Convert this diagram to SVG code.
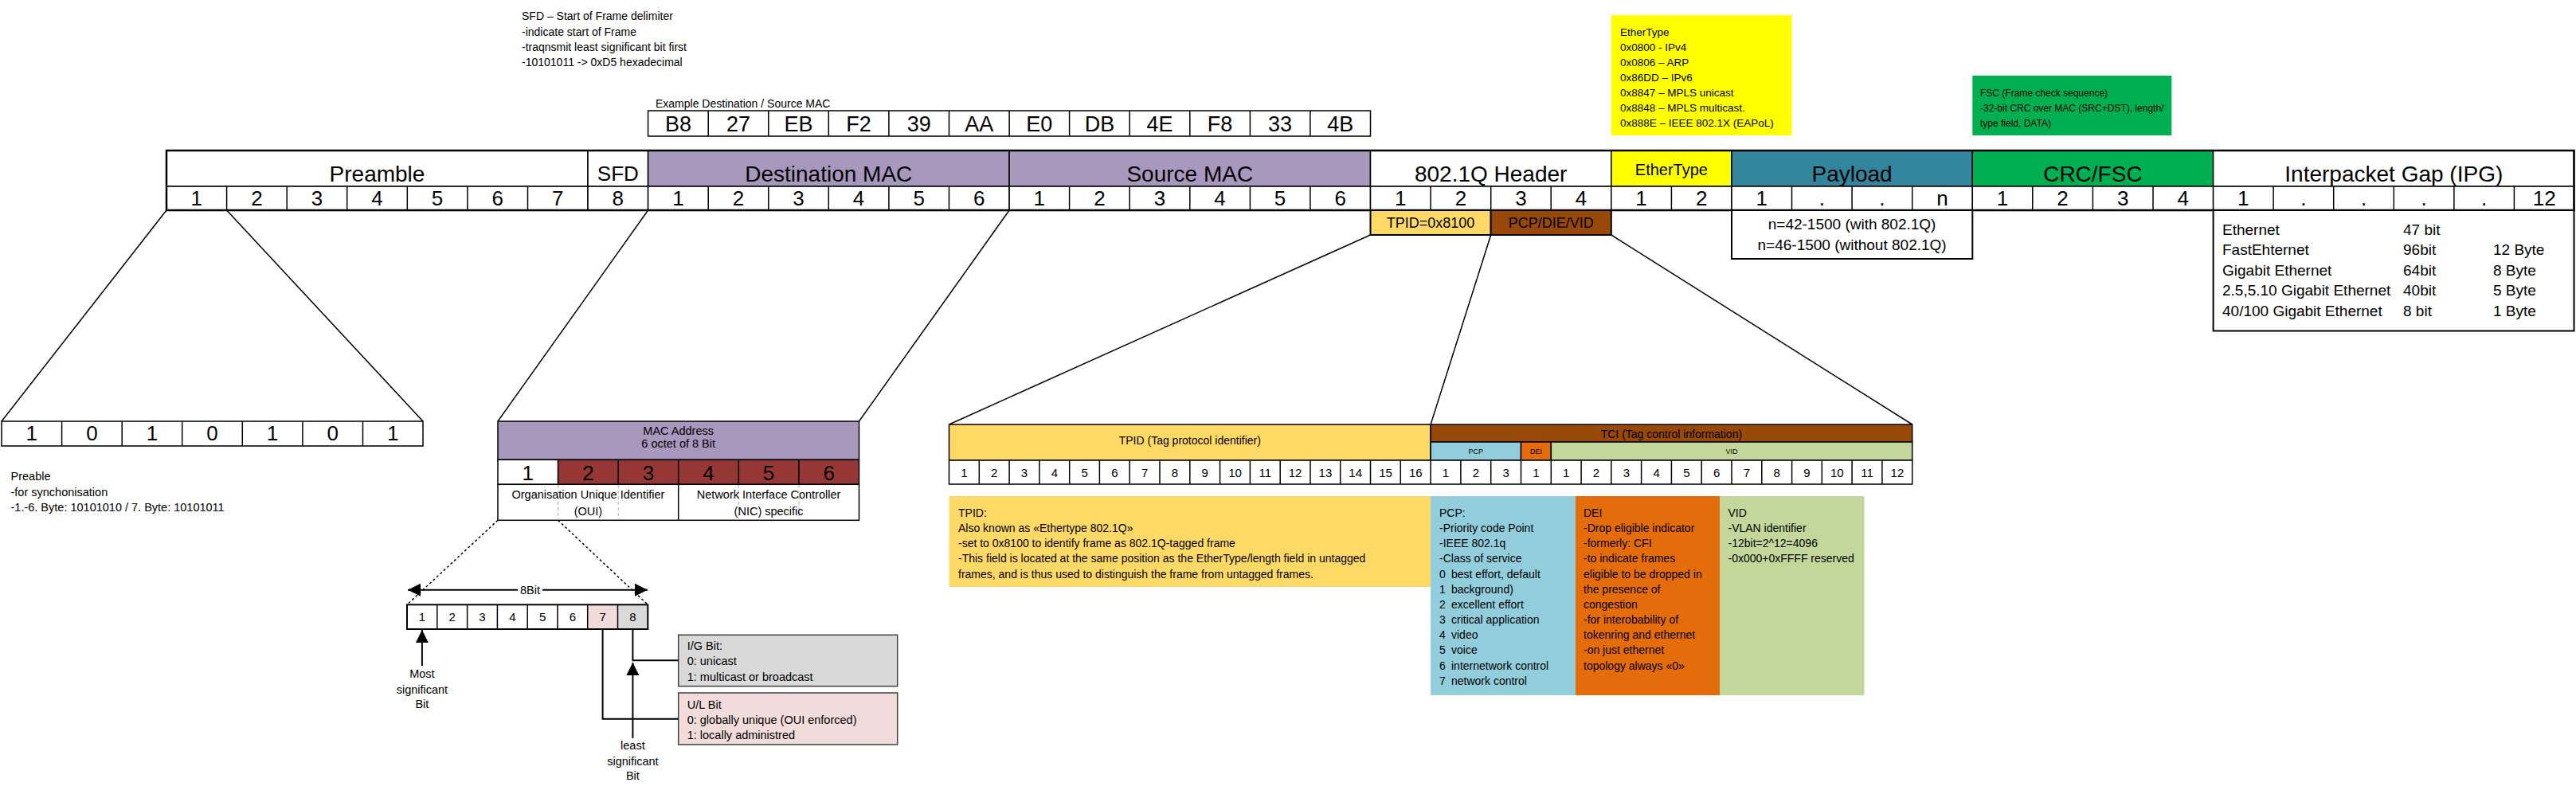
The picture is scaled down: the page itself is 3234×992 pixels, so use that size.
<svg xmlns="http://www.w3.org/2000/svg" width="3234" height="992" viewBox="0 0 3234 992">
<defs>
<style>
text{font-family:"Liberation Sans",Arial,sans-serif;fill:#000}
.cell{stroke:#000;stroke-width:1.5}
.bold{stroke:#000;stroke-width:2.5;fill:none}
.sep{stroke:#000;stroke-width:1.5;fill:none}
.h28{font-size:28px;text-anchor:middle}
.n26{font-size:26px;text-anchor:middle}
.n15{font-size:15px;text-anchor:middle}
.s14{font-size:14px}
.s135{font-size:13.5px}
.s145{font-size:14.5px}
.s19{font-size:19px}
.m{text-anchor:middle}
.ln{stroke:#000;stroke-width:1.5;fill:none}
.ar{stroke:#000;stroke-width:2;fill:none}
.dot{stroke:#000;stroke-width:1.5;stroke-dasharray:3 3;fill:none}
.gdash{stroke:#bbb;stroke-width:1.2;stroke-dasharray:4 3;fill:none}
</style>
<marker id="ah" viewBox="0 0 10 10" refX="10" refY="5" markerWidth="16" markerHeight="16" markerUnits="userSpaceOnUse" orient="auto-start-reverse"><path d="M0 0L10 5L0 10z" fill="#000"/></marker>
</defs>
<rect x="0" y="0" width="3234" height="992" fill="#fff"/>

<!-- SFD note -->
<g id="sfd-note" class="s14">
<text x="655" y="25">SFD – Start of Frame delimiter</text>
<text x="655" y="44.5">-indicate start of Frame</text>
<text x="655" y="64">-traqnsmit least significant bit first</text>
<text x="655" y="83">-10101011 -&gt; 0xD5 hexadecimal</text>
</g>

<!-- Example MAC -->
<g id="mac-example">
<text class="s14" x="823" y="135">Example Destination / Source MAC</text>
<rect class="cell" fill="#fff" x="813.6" y="139" width="906.9" height="32"/>
<path class="sep" d="M889.2 139V171M964.8 139V171M1040.3 139V171M1115.9 139V171M1191.5 139V171M1267.1 139V171M1342.6 139V171M1418.2 139V171M1493.8 139V171M1569.4 139V171M1644.9 139V171"/>
<g class="n26" style="font-size:27px">
<text x="851.4" y="165">B8</text><text x="927" y="165">27</text><text x="1002.5" y="165">EB</text><text x="1078.1" y="165">F2</text><text x="1153.7" y="165">39</text><text x="1229.3" y="165">AA</text><text x="1304.8" y="165">E0</text><text x="1380.4" y="165">DB</text><text x="1456" y="165">4E</text><text x="1531.6" y="165">F8</text><text x="1607.1" y="165">33</text><text x="1682.7" y="165">4B</text>
</g>
</g>

<!-- EtherType note -->
<g id="ethertype-note" class="s135">
<rect x="2022.8" y="19" width="226.7" height="151" fill="#FFFF00"/>
<text x="2034" y="44.5">EtherType</text>
<text x="2034" y="64">0x0800 - IPv4</text>
<text x="2034" y="83">0x0806 – ARP</text>
<text x="2034" y="102">0x86DD – IPv6</text>
<text x="2034" y="121">0x8847 – MPLS unicast</text>
<text x="2034" y="140">0x8848 – MPLS multicast.</text>
<text x="2034" y="159">0x888E – IEEE 802.1X (EAPoL)</text>
</g>

<!-- FSC note -->
<g id="fsc-note" style="font-size:12px">
<rect x="2476.3" y="95" width="250" height="75" fill="#00B050"/>
<text x="2486" y="121">FSC (Frame check sequence)</text>
<text x="2486" y="139.5">-32-bit CRC over MAC (SRC+DST), length/</text>
<text x="2486" y="158.5">type field, DATA)</text>
</g>

<!-- Main frame -->
<g id="preamble">
<rect class="cell" fill="#fff" x="209" y="189" width="529" height="45"/>
<rect class="cell" fill="#fff" x="209" y="234" width="529" height="30"/>
<path class="sep" d="M284.6 234V264M360.2 234V264M435.7 234V264M511.3 234V264M586.9 234V264M662.5 234V264"/>
<text class="h28" x="473.5" y="228">Preamble</text>
<g class="n26"><text x="246.8" y="258">1</text><text x="322.4" y="258">2</text><text x="397.9" y="258">3</text><text x="473.5" y="258">4</text><text x="549.1" y="258">5</text><text x="624.7" y="258">6</text><text x="700.2" y="258">7</text></g>
</g>
<g id="sfd">
<rect class="cell" fill="#fff" x="738" y="189" width="75.6" height="45"/>
<rect class="cell" fill="#fff" x="738" y="234" width="75.6" height="30"/>
<text class="h28" style="font-size:26px" x="775.8" y="227">SFD</text>
<text class="n26" x="775.8" y="258">8</text>
</g>
<g id="dst-mac">
<rect class="cell" fill="#A898BE" x="813.6" y="189" width="453.5" height="45"/>
<rect class="cell" fill="#fff" x="813.6" y="234" width="453.5" height="30"/>
<path class="sep" d="M889.2 234V264M964.8 234V264M1040.3 234V264M1115.9 234V264M1191.5 234V264"/>
<text class="h28" x="1040.3" y="228">Destination MAC</text>
<g class="n26"><text x="851.4" y="258">1</text><text x="927" y="258">2</text><text x="1002.5" y="258">3</text><text x="1078.1" y="258">4</text><text x="1153.7" y="258">5</text><text x="1229.3" y="258">6</text></g>
</g>
<g id="src-mac">
<rect class="cell" fill="#A898BE" x="1267.1" y="189" width="453.4" height="45"/>
<rect class="cell" fill="#fff" x="1267.1" y="234" width="453.4" height="30"/>
<path class="sep" d="M1342.6 234V264M1418.2 234V264M1493.8 234V264M1569.4 234V264M1644.9 234V264"/>
<text class="h28" x="1493.8" y="228">Source MAC</text>
<g class="n26"><text x="1304.8" y="258">1</text><text x="1380.4" y="258">2</text><text x="1456" y="258">3</text><text x="1531.6" y="258">4</text><text x="1607.1" y="258">5</text><text x="1682.7" y="258">6</text></g>
</g>
<g id="dot1q-header">
<rect class="cell" fill="#fff" x="1720.5" y="189" width="302.3" height="45"/>
<rect class="cell" fill="#fff" x="1720.5" y="234" width="302.3" height="30"/>
<path class="sep" d="M1796.1 234V264M1871.7 234V264M1947.2 234V264"/>
<text class="h28" x="1871.7" y="228">802.1Q Header</text>
<g class="n26"><text x="1758.3" y="258">1</text><text x="1833.9" y="258">2</text><text x="1909.4" y="258">3</text><text x="1985" y="258">4</text></g>
</g>
<g id="ethertype">
<rect class="cell" fill="#FFFF00" x="2022.8" y="189" width="151.2" height="45"/>
<rect class="cell" fill="#fff" x="2022.8" y="234" width="151.2" height="30"/>
<path class="sep" d="M2098.4 234V264"/>
<text class="h28" style="font-size:20px" x="2098.4" y="220">EtherType</text>
<g class="n26"><text x="2060.6" y="258">1</text><text x="2136.2" y="258">2</text></g>
</g>
<g id="payload">
<rect class="cell" fill="#31859C" x="2174" y="189" width="302.3" height="45"/>
<rect class="cell" fill="#fff" x="2174" y="234" width="302.3" height="30"/>
<path class="sep" d="M2249.5 234V264M2325.1 234V264M2400.7 234V264"/>
<text class="h28" x="2325.1" y="228">Payload</text>
<g class="n26"><text x="2211.7" y="258">1</text><text x="2287.3" y="258">.</text><text x="2362.9" y="258">.</text><text x="2438.5" y="258">n</text></g>
</g>
<g id="crc-fsc">
<rect class="cell" fill="#00B050" x="2476.3" y="189" width="302.3" height="45"/>
<rect class="cell" fill="#fff" x="2476.3" y="234" width="302.3" height="30"/>
<path class="sep" d="M2551.8 234V264M2627.4 234V264M2703 234V264"/>
<text class="h28" x="2627.4" y="228">CRC/FSC</text>
<g class="n26"><text x="2514" y="258">1</text><text x="2589.6" y="258">2</text><text x="2665.2" y="258">3</text><text x="2740.8" y="258">4</text></g>
</g>
<g id="ipg">
<rect class="cell" fill="#fff" x="2778.6" y="189" width="452.9" height="45"/>
<rect class="cell" fill="#fff" x="2778.6" y="234" width="452.9" height="30"/>
<path class="sep" d="M2854.1 234V264M2929.7 234V264M3005.3 234V264M3080.9 234V264M3156.4 234V264"/>
<text class="h28" x="3005.3" y="228">Interpacket Gap (IPG)</text>
<g class="n26"><text x="2816.3" y="258">1</text><text x="2891.9" y="258">.</text><text x="2967.5" y="258">.</text><text x="3043.1" y="258">.</text><text x="3118.6" y="258">.</text><text x="3194.2" y="258">12</text></g>
</g>
<rect class="bold" x="209" y="189" width="3022.5" height="75"/>

<!-- 802.1Q sub fields -->
<g id="dot1q-sub">
<rect x="1720.5" y="264" width="151.2" height="31" fill="#FFD966" stroke="#000" stroke-width="2"/>
<rect x="1871.7" y="264" width="151.1" height="31" fill="#984807" stroke="#000" stroke-width="2"/>
<text class="m" style="font-size:18px" x="1796.1" y="286">TPID=0x8100</text>
<text class="m" style="font-size:18px" x="1947.2" y="286">PCP/DIE/VID</text>
</g>

<!-- Payload note -->
<g id="payload-note">
<rect x="2174" y="264" width="302.3" height="61" fill="#fff" stroke="#000" stroke-width="2"/>
<text class="s19 m" x="2325.1" y="288">n=42-1500 (with 802.1Q)</text>
<text class="s19 m" x="2325.1" y="313.5">n=46-1500 (without 802.1Q)</text>
</g>

<!-- IPG note -->
<g id="ipg-note" class="s19">
<rect x="2778.6" y="264" width="452.9" height="151.5" fill="#fff" stroke="#000" stroke-width="2"/>
<text x="2790" y="295">Ethernet</text><text x="3017" y="295">47 bit</text>
<text x="2790" y="320">FastEhternet</text><text x="3017" y="320">96bit</text><text x="3130" y="320">12 Byte</text>
<text x="2790" y="345.7">Gigabit Ethernet</text><text x="3017" y="345.7">64bit</text><text x="3130" y="345.7">8 Byte</text>
<text x="2790" y="371">2.5,5.10 Gigabit Ethernet</text><text x="3017" y="371">40bit</text><text x="3130" y="371">5 Byte</text>
<text x="2790" y="396.7">40/100 Gigabit Ethernet</text><text x="3017" y="396.7">8 bit</text><text x="3130" y="396.7">1 Byte</text>
</g>

<!-- Preamble bits -->
<g id="preamble-bits">
<rect class="cell" fill="#fff" x="2" y="529" width="529" height="31" stroke-width="2"/>
<path class="sep" d="M77.6 529V560M153.2 529V560M228.7 529V560M304.3 529V560M379.9 529V560M455.5 529V560"/>
<g class="n26"><text x="39.8" y="553">1</text><text x="115.4" y="553">0</text><text x="190.9" y="553">1</text><text x="266.5" y="553">0</text><text x="342.1" y="553">1</text><text x="417.7" y="553">0</text><text x="493.2" y="553">1</text></g>
</g>
<g id="preamble-note" class="s145">
<text x="13.5" y="603">Preable</text>
<text x="13.5" y="623">-for synchonisation</text>
<text x="13.5" y="642">-1.-6. Byte: 10101010 / 7. Byte: 10101011</text>
</g>

<!-- MAC address -->
<g id="mac-address">
<rect class="cell" fill="#A898BE" x="625" y="529" width="453.5" height="48.3" stroke-width="2"/>
<text class="s145 m" x="851.7" y="546">MAC Address</text>
<text class="s145 m" x="851.7" y="561.5">6 octet of 8 Bit</text>
<rect class="cell" fill="#fff" x="625" y="577.3" width="75.6" height="31"/>
<rect class="cell" fill="#953735" x="700.6" y="577.3" width="377.9" height="31"/>
<path class="sep" d="M776.2 577.3V608.3M851.7 577.3V608.3M927.3 577.3V608.3M1002.9 577.3V608.3"/>
<g class="n26"><text x="662.8" y="603">1</text><text x="738.4" y="603">2</text><text x="813.9" y="603">3</text><text x="889.5" y="603">4</text><text x="965.1" y="603">5</text><text x="1040.7" y="603">6</text></g>
<rect class="cell" fill="#fff" x="625" y="608.3" width="453.5" height="45" stroke-width="2"/>
<path class="gdash" d="M700.6 609V652.5M776.2 609V652.5M927.3 609V652.5M1002.9 609V652.5"/>
<path class="sep" d="M851.7 608.3V653.3"/>
<text class="s145 m" x="738.4" y="626">Organisation Unique Identifier</text>
<text class="s145 m" x="738.4" y="647">(OUI)</text>
<text class="s145 m" x="965.1" y="626">Network Interface Controller</text>
<text class="s145 m" x="965.1" y="647">(NIC) specific</text>
</g>

<!-- Octet bits -->
<g id="octet-bits">
<rect fill="#fff" x="511" y="759.3" width="302.3" height="30.7"/>
<rect fill="#F2DCDB" x="737.7" y="759.3" width="37.8" height="30.7"/>
<rect fill="#D9D9D9" x="775.5" y="759.3" width="37.8" height="30.7"/>
<rect fill="none" stroke="#000" stroke-width="2" x="511" y="759.3" width="302.3" height="30.7"/>
<path class="sep" stroke-width="2" d="M548.8 759.3V790M586.6 759.3V790M624.4 759.3V790M662.2 759.3V790M700 759.3V790M737.7 759.3V790M775.5 759.3V790"/>
<g class="m" style="font-size:15px"><text x="529.9" y="780">1</text><text x="567.7" y="780">2</text><text x="605.5" y="780">3</text><text x="643.3" y="780">4</text><text x="681.1" y="780">5</text><text x="718.9" y="780">6</text><text x="756.6" y="780">7</text><text x="794.4" y="780">8</text></g>
<text class="s145 m" x="665.5" y="746">8Bit</text>
</g>
<g id="msb-label" class="s145 m">
<text x="529.9" y="851">Most</text>
<text x="529.9" y="870.5">significant</text>
<text x="529.9" y="889">Bit</text>
</g>
<g id="lsb-label" class="s145 m">
<text x="794.4" y="941">least</text>
<text x="794.4" y="960.5">significant</text>
<text x="794.4" y="979">Bit</text>
</g>
<g id="ig-bit" class="s145">
<rect x="851.7" y="797.3" width="275" height="64.4" fill="#D9D9D9" stroke="#404040" stroke-width="1.5"/>
<text x="862.7" y="816">I/G Bit:</text>
<text x="862.7" y="835">0: unicast</text>
<text x="862.7" y="854.5">1: multicast or broadcast</text>
</g>
<g id="ul-bit" class="s145">
<rect x="851.7" y="870" width="275" height="65" fill="#F2DCDB" stroke="#404040" stroke-width="1.5"/>
<text x="862.7" y="889.5">U/L Bit</text>
<text x="862.7" y="908.5">0: globally unique (OUI enforced)</text>
<text x="862.7" y="927.5">1: locally administred</text>
</g>

<!-- Tag table -->
<g id="tag-table">
<rect class="cell" fill="#FFD966" x="1191.5" y="533" width="604.6" height="45"/>
<text class="s14 m" x="1493.8" y="558">TPID (Tag protocol identifier)</text>
<rect class="cell" fill="#984807" x="1796.1" y="533" width="604.6" height="22"/>
<text class="s14 m" x="2098.4" y="549.5">TCI (Tag control information)</text>
<rect class="cell" fill="#92CDDC" x="1796.1" y="555" width="113.4" height="23"/>
<rect class="cell" fill="#E46C0A" x="1909.5" y="555" width="37.8" height="23"/>
<rect class="cell" fill="#C4D79B" x="1947.3" y="555" width="453.4" height="23"/>
<g class="m" style="font-size:9px"><text x="1852.8" y="570">PCP</text><text x="1928.4" y="570">DEI</text><text x="2174" y="570">VID</text></g>
<rect class="cell" fill="#fff" x="1191.5" y="578" width="1209.2" height="30"/>
<path class="sep" d="M1229.3 578V608M1267.1 578V608M1304.9 578V608M1342.7 578V608M1380.4 578V608M1418.2 578V608M1456 578V608M1493.8 578V608M1531.6 578V608M1569.4 578V608M1607.2 578V608M1645 578V608M1682.7 578V608M1720.5 578V608M1758.3 578V608M1796.1 578V608M1833.9 578V608M1871.7 578V608M1909.5 578V608M1947.3 578V608M1985.1 578V608M2022.8 578V608M2060.6 578V608M2098.4 578V608M2136.2 578V608M2174 578V608M2211.8 578V608M2249.6 578V608M2287.3 578V608M2325.1 578V608M2362.9 578V608"/>
<g class="n15">
<text x="1210.4" y="598.5">1</text><text x="1248.2" y="598.5">2</text><text x="1286" y="598.5">3</text><text x="1323.8" y="598.5">4</text><text x="1361.6" y="598.5">5</text><text x="1399.4" y="598.5">6</text><text x="1437.2" y="598.5">7</text><text x="1475" y="598.5">8</text><text x="1512.7" y="598.5">9</text><text x="1550.5" y="598.5">10</text><text x="1588.3" y="598.5">11</text><text x="1626.1" y="598.5">12</text><text x="1663.9" y="598.5">13</text><text x="1701.7" y="598.5">14</text><text x="1739.5" y="598.5">15</text><text x="1777.3" y="598.5">16</text>
<text x="1815" y="598.5">1</text><text x="1852.8" y="598.5">2</text><text x="1890.6" y="598.5">3</text>
<text x="1928.4" y="598.5">1</text>
<text x="1966.2" y="598.5">1</text><text x="2004" y="598.5">2</text><text x="2041.8" y="598.5">3</text><text x="2079.6" y="598.5">4</text><text x="2117.4" y="598.5">5</text><text x="2155.1" y="598.5">6</text><text x="2192.9" y="598.5">7</text><text x="2230.7" y="598.5">8</text><text x="2268.5" y="598.5">9</text><text x="2306.3" y="598.5">10</text><text x="2344.1" y="598.5">11</text><text x="2381.9" y="598.5">12</text>
</g>
</g>

<!-- Notes under tag table -->
<g id="tpid-note" class="s14">
<rect x="1191.5" y="623" width="604.6" height="114" fill="#FFD966"/>
<text x="1203" y="649">TPID:</text>
<text x="1203" y="668">Also known as «Ethertype 802.1Q»</text>
<text x="1203" y="687">-set to 0x8100 to identify frame as 802.1Q-tagged frame</text>
<text x="1203" y="706">-This field is located at the same position as the EtherType/length field in untagged</text>
<text x="1203" y="725.5"> frames, and is thus used to distinguish the frame from untagged frames.</text>
</g>
<g id="pcp-note" class="s14">
<rect x="1796.1" y="623" width="181.9" height="250" fill="#92CDDC"/>
<text x="1807" y="649">PCP:</text>
<text x="1807" y="668">-Priority code Point</text>
<text x="1807" y="687">-IEEE 802.1q</text>
<text x="1807" y="706">-Class of service</text>
<text x="1807" y="725.5">0</text><text x="1822" y="725.5">best effort, default</text>
<text x="1807" y="744.5">1</text><text x="1822" y="744.5">background)</text>
<text x="1807" y="764">2</text><text x="1822" y="764">excellent effort</text>
<text x="1807" y="783">3</text><text x="1822" y="783">critical application</text>
<text x="1807" y="802">4</text><text x="1822" y="802">video</text>
<text x="1807" y="821">5</text><text x="1822" y="821">voice</text>
<text x="1807" y="840.5">6</text><text x="1822" y="840.5">internetwork control</text>
<text x="1807" y="859.5">7</text><text x="1822" y="859.5">network control</text>
</g>
<g id="dei-note" class="s14">
<rect x="1978" y="623" width="181" height="250" fill="#E46C0A"/>
<text x="1988" y="649">DEI</text>
<text x="1988" y="668">-Drop eligible indicator</text>
<text x="1988" y="687">-formerly: CFI</text>
<text x="1988" y="706">-to indicate frames</text>
<text x="1988" y="725.5">eligible to be dropped in</text>
<text x="1988" y="744.5">the presence of</text>
<text x="1988" y="764">congestion</text>
<text x="1988" y="783">-for interobability of</text>
<text x="1988" y="802">tokenring and ethernet</text>
<text x="1988" y="821">-on just ethernet</text>
<text x="1988" y="840.5">topology always «0»</text>
</g>
<g id="vid-note" class="s14">
<rect x="2159" y="623" width="181.5" height="250" fill="#C4D79B"/>
<text x="2169.5" y="649">VID</text>
<text x="2169.5" y="668">-VLAN identifier</text>
<text x="2169.5" y="687">-12bit=2^12=4096</text>
<text x="2169.5" y="706">-0x000+0xFFFF reserved</text>
</g>

<!-- Connectors -->
<g id="connectors">
<path class="ln" d="M209 264L2 529M284.6 264L531 529"/>
<path class="ln" d="M813.6 264L625 529M1267.1 264L1078.5 529"/>
<path class="ln" d="M1720.5 295L1191.5 533M1871.7 295L1796.1 533M2022.8 295L2400.7 533"/>
<path class="dot" d="M625 653.3L511 759.3M700.6 653.3L813.3 759.3"/>
<path class="ar" d="M650 740.7H512" marker-end="url(#ah)"/>
<path class="ar" d="M681 740.7H813" marker-end="url(#ah)"/>
<path class="ar" d="M529.9 836V791" marker-end="url(#ah)"/>
<path class="ar" d="M794.4 927V832" marker-end="url(#ah)"/>
<path class="ar" d="M794.4 790V829.3H851.7"/>
<path class="ar" d="M756.6 790V902.7H851.7"/>
</g>
</svg>
